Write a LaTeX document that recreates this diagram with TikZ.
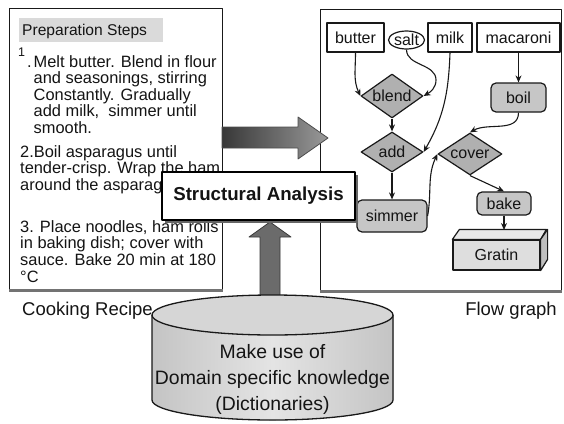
\documentclass[tikz,border=0pt]{standalone}
\usepackage{fontspec}
\setmainfont{Liberation Sans}
\usetikzlibrary{shapes.geometric,arrows.meta,calc,shadows}

\definecolor{ink}{RGB}{25,25,25}
\definecolor{txt}{RGB}{20,20,20}
\definecolor{headfill}{RGB}{218,218,218}
\definecolor{diafill}{RGB}{176,176,176}
\definecolor{procfill}{RGB}{198,198,198}
\definecolor{gratfill}{RGB}{222,222,222}
\definecolor{grattop}{RGB}{232,232,232}
\definecolor{gratside}{RGB}{190,190,190}
\definecolor{cylside}{RGB}{196,196,196}
\definecolor{cylmid}{RGB}{228,228,228}
\definecolor{cyltop}{RGB}{214,214,214}

\begin{document}
\begin{tikzpicture}[x=1pt,y=1pt,line join=round,
  every node/.style={text=txt},
  panel/.style={draw=ink, line width=1.4pt, fill=white, inner sep=0, anchor=north west},
  rline/.style={anchor=base west, inner sep=0, font=\fontsize{16.4}{17}\selectfont},
  lbl/.style={inner sep=0, font=\fontsize{18.5}{20}\selectfont},
  ingr/.style={draw=ink, line width=1.2pt, fill=white, inner sep=0, minimum height=29,
    font=\fontsize{16}{18}\selectfont},
  op/.style={diamond, aspect=1.4, draw=ink, line width=1.2pt, fill=diafill, inner sep=0,
    minimum width=62, minimum height=44, font=\fontsize{16}{18}\selectfont},
  proc/.style={rectangle, rounded corners=5pt, draw=ink, line width=1.2pt, fill=procfill,
    inner sep=0, font=\fontsize{16}{18}\selectfont},
  arr/.style={draw=ink, line width=1.1pt, -{Stealth[length=7pt,width=6pt]}},
]
\useasboundingbox (0,0) rectangle (564,-423);

% --- the two panels ---------------------------------------------------
\node[panel, minimum width=213, minimum height=281] (recipebox) at (9,-8) {};
\node[panel, minimum width=241, minimum height=281] (flowbox) at (320,-9) {};
\draw[black!55, line width=2.6pt] (recipebox.south west) -- (recipebox.south east);
\draw[black!55, line width=2.6pt] (flowbox.south west) -- (flowbox.south east);

% --- recipe text --------------------------------------------------------
\node[fill=headfill, anchor=north west, minimum width=144, minimum height=24,
      inner sep=0] (head) at (19,-18) {};
\node[anchor=base west, inner sep=0, font=\fontsize{15.6}{17}\selectfont]
      (headtext) at (22,-35) {Preparation Steps};

\node[anchor=base west, inner sep=0, font=\fontsize{12.5}{13}\selectfont] (one) at (18,-56) {1};
\node[rline] (onedot) at (27,-67) {.};
\foreach \i/\y/\t in {a/-67/{Melt butter. Blend in flour},
                      b/-83.5/{and seasonings, stirring},
                      c/-100/{Constantly. Gradually},
                      d/-116.5/{add milk,~ simmer until},
                      e/-133/{smooth.}}
  \node[rline] (p1\i) at (33.5,\y) {\t};
\foreach \i/\y/\t in {a/-157/{2.Boil asparagus until},
                      b/-173.5/{tender-crisp. Wrap the ham},
                      c/-190/{around the asparagus.}}
  \node[rline] (p2\i) at (20,\y) {\t};
\foreach \i/\y/\t in {a/-232/{3. Place noodles, ham rolls},
                      b/-248.5/{in baking dish; cover with},
                      c/-265/{sauce. Bake 20 min at 180},
                      d/-282/{°C}}
  \node[rline] (p3\i) at (20,\y) {\t};

% --- flow graph ---------------------------------------------------------
\node[ingr, minimum width=57] (butter) at (355.5,-37.5) {butter};
\node[ellipse, draw=ink, line width=1.2pt, fill=white, inner sep=0, minimum width=36,
      minimum height=18, font=\fontsize{16}{18}\selectfont] (salt) at (406.5,-40) {salt};
\node[ingr, minimum width=44] (milk) at (450,-37.5) {milk};
\node[ingr, minimum width=83] (macaroni) at (518.5,-37.5) {macaroni};
\node[op] (blend) at (392,-96) {blend};
\node[proc, minimum width=55, minimum height=29] (boil) at (518.5,-97.5) {boil};
\node[op, minimum height=40] (add) at (392,-152) {add};
\node[op, minimum width=64, minimum height=42] (cover) at (470,-154) {cover};
\node[proc, minimum width=70, minimum height=32] (simmer) at (392,-216) {simmer};
\node[proc, minimum width=54, minimum height=23] (bake) at (504,-203.5) {bake};
\node[draw=ink, fill=gratfill, line width=1.2pt, minimum width=87, minimum height=30,
      inner sep=0, font=\fontsize{16}{18}\selectfont] (gratin) at (496.5,-255) {Gratin};
\filldraw[draw=ink, line width=1.2pt, fill=grattop]
  (gratin.north west) -- ++(7,10) -- ++(87,0) -- (gratin.north east) -- cycle;
\filldraw[draw=ink, line width=1.2pt, fill=gratside]
  (gratin.north east) -- ++(7,10) -- ++(0,-30) -- (gratin.south east) -- cycle;
\coordinate (gtop) at (504,-230);
\coordinate (saltbend) at (436,-80);

\draw[arr] (butter.south) to[out=-90,in=115] (blend.west);
\draw[arr] (salt.south) to[out=-90,in=90] (saltbend) to[out=-90,in=30] (blend.east);
\draw[arr] (milk.south) to[out=-92,in=60] (add.east);
\draw[arr] (blend.south) -- (add.north);
\draw[arr] (macaroni.south) -- (boil.north);
\draw[arr] (boil.south) to[out=-90,in=30] (cover.north);
\draw[arr] (add.south) -- (simmer.north);
\draw[arr] (simmer.east) to[out=80,in=-115] (cover.west);
\draw[arr] (cover.south) -- (bake.north);
\draw[arr] (bake.south) -- (gtop);

% --- captions -----------------------------------------------------------
\node[lbl, anchor=base west] (reciplbl) at (22,-315) {Cooking Recipe};
\node[lbl, anchor=base east] (flowlbl) at (557,-315) {Flow graph};

% --- broad arrows -------------------------------------------------------
\draw[left color=black!78, right color=black!40, draw=black!70, line width=0.8pt]
  (222,-127) -- (298,-127) -- (298,-117) -- (328,-138) -- (298,-159)
  -- (298,-148) -- (222,-148) -- cycle;
\draw[fill=black!58, draw=black!78, line width=0.8pt]
  (260,-297) -- (260,-237) -- (249,-237) -- (270,-222) -- (291,-237)
  -- (280,-237) -- (280,-297) -- cycle;

% --- analysis box -------------------------------------------------------
\node[draw=black, line width=2.4pt, fill=white, minimum width=193, minimum height=48,
      inner sep=0, font=\bfseries\fontsize{18.7}{20}\selectfont,
      drop shadow={shadow xshift=2.5pt, shadow yshift=-2.5pt, fill=black!60, opacity=1}]
      (sa) at (258.5,-196) {Structural Analysis};

% --- dictionary store ---------------------------------------------------
\fill[left color=cylside, right color=cylside, middle color=cylmid]
  (152,-315) -- (152,-400) arc[start angle=180, end angle=360, x radius=120.5, y radius=20]
  -- (393,-315) -- cycle;
\draw[ink, line width=1.3pt]
  (152,-315) -- (152,-400) arc[start angle=180, end angle=360, x radius=120.5, y radius=20]
  -- (393,-315);
\filldraw[draw=ink, line width=1.3pt, fill=cyltop]
  (272.5,-315) ellipse[x radius=120.5, y radius=20];
\node[align=center, inner sep=0, font=\fontsize{19.4}{26}\selectfont] (db)
  at (272.5,-379) {Make use of\\Domain specific knowledge\\(Dictionaries)};
\end{tikzpicture}
\end{document}
